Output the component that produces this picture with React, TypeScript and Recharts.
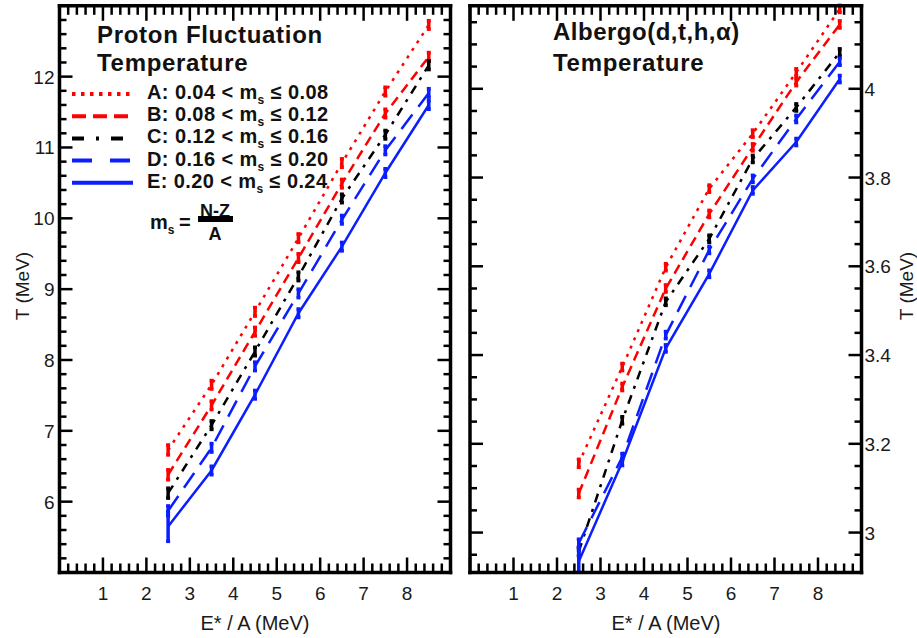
import { LineChart, Line, XAxis, YAxis, ErrorBar } from 'recharts';

const energies = [2.5, 3.5, 4.5, 5.5, 6.5, 7.5, 8.5];

// proton fluctuation temperature (MeV) for groups A..E
const protonA = [6.73, 7.65, 8.68, 9.72, 10.78, 11.79, 12.73];
const protonB = [6.38, 7.36, 8.4, 9.44, 10.49, 11.48, 12.28];
const protonC = [6.12, 7.08, 8.12, 9.18, 10.28, 11.18, 12.16];
const protonD = [5.87, 6.76, 7.91, 8.94, 9.98, 10.96, 11.77];
const protonE = [5.65, 6.44, 7.51, 8.66, 9.6, 10.64, 11.6];
const protonErr = [0.07, 0.06, 0.06, 0.06, 0.06, 0.06, 0.06];
const protonErrE = [0.21, 0.06, 0.06, 0.06, 0.06, 0.06, 0.06];

// Albergo (d,t,h,alpha) temperature (MeV)
const albergoA = [3.156, 3.373, 3.598, 3.775, 3.899, 4.037, 4.18];
const albergoB = [3.088, 3.328, 3.55, 3.718, 3.868, 4.015, 4.145];
const albergoC = [2.957, 3.253, 3.52, 3.662, 3.842, 3.958, 4.082];
const albergoD = [2.976, 3.17, 3.445, 3.637, 3.797, 3.932, 4.061];
const albergoE = [2.935, 3.159, 3.415, 3.583, 3.771, 3.88, 4.022];
const albergoErr = [0.009, 0.008, 0.008, 0.008, 0.008, 0.008, 0.008];
const albergoErrE = [0.024, 0.008, 0.008, 0.008, 0.008, 0.008, 0.008];

const groupNames = ['A', 'B', 'C', 'D', 'E'];
const groupLow = ['0.04', '0.08', '0.12', '0.16', '0.20'];
const groupHigh = ['0.08', '0.12', '0.16', '0.20', '0.24'];

const xTickLabels = [1, 2, 3, 4, 5, 6, 7, 8];
const protonTickLabels = [6, 7, 8, 9, 10, 11, 12];
const albergoTickLabels = [3, 3.2, 3.4, 3.6, 3.8, 4];

const RED = '#ff0000';
const BLUE = '#0a1eff';
const lineStyles = [
  { color: RED, dash: '3 6', legendDash: '3.5 5.5' },
  { color: RED, dash: '10 6', legendDash: '14 7' },
  { color: '#000', dash: '9 7 3 7', legendDash: '12 12 3 12' },
  { color: BLUE, dash: '18 10', legendDash: '20 18' },
  { color: BLUE, dash: undefined, legendDash: undefined },
];

const FONT = '"Liberation Sans", Arial, sans-serif';

const proton = energies.map((e, i) => ({
  e,
  A: protonA[i], B: protonB[i], C: protonC[i], D: protonD[i], E: protonE[i],
  err: protonErr[i], errE: protonErrE[i],
}));
const albergo = energies.map((e, i) => ({
  e,
  A: albergoA[i], B: albergoB[i], C: albergoC[i], D: albergoD[i], E: albergoE[i],
  err: albergoErr[i], errE: albergoErrE[i],
}));

function steps(from: number, to: number, step: number) {
  const out: number[] = [];
  const n = Math.round((to - from) / step);
  for (let k = 0; k <= n; k++) out.push(Number((from + k * step).toFixed(3)));
  return out;
}

const has = (list: number[], v: number) => list.some((m) => Math.abs(m - v) < 1e-6);

type Side = 'bottom' | 'top' | 'left' | 'right';

function makeTick(side: Side, majors: number[], labels: number[], majorLen: number, minorLen: number) {
  return (props: any) => {
    const { x, y, payload } = props;
    const v = payload.value;
    const len = has(majors, v) ? majorLen : minorLen;
    let x2 = x;
    let y2 = y;
    if (side === 'bottom') y2 = y - len;
    if (side === 'top') y2 = y + len;
    if (side === 'left') x2 = x + len;
    if (side === 'right') x2 = x - len;
    let label = null;
    if (has(labels, v)) {
      const common = { fontFamily: FONT, fontSize: 19, fill: '#1a1a1a' };
      if (side === 'bottom')
        label = <text x={x} y={y + 27} textAnchor="middle" {...common}>{v}</text>;
      if (side === 'left')
        label = <text x={x - 5} y={y + 7} textAnchor="end" {...common}>{v}</text>;
      if (side === 'right')
        label = <text x={x + 3} y={y + 7} textAnchor="start" {...common}>{v}</text>;
    }
    return (
      <g>
        <line x1={x} y1={y} x2={x2} y2={y2} stroke="#000" strokeWidth={2.5} />
        {label}
      </g>
    );
  };
}

const frame = { stroke: '#000', strokeWidth: 3.5, strokeLinecap: 'square' as const };
const xTicks = steps(0, 9, 0.2);
const xMajors = steps(0, 9, 1);

function Panel({ data, yDomain, yTicks, yMajors, yLabels, labelSide, width, margin }: any) {
  const axisCommon = { interval: 0 as const, tickLine: false, tickSize: 0, tickMargin: 0, axisLine: frame, allowDataOverflow: true };
  return (
    <LineChart width={width} height={638} data={data} margin={margin}>
      <XAxis xAxisId="b" dataKey="e" type="number" domain={[0, 9]} ticks={xTicks} height={1}
        orientation="bottom" tick={makeTick('bottom', xMajors, xTickLabels, 15, 9)} {...axisCommon} />
      <XAxis xAxisId="t" dataKey="e" type="number" domain={[0, 9]} ticks={xTicks} height={1}
        orientation="top" tick={makeTick('top', xMajors, [], 15, 9)} {...axisCommon} />
      <YAxis yAxisId="l" type="number" domain={yDomain} ticks={yTicks} width={1}
        orientation="left" tick={makeTick('left', yMajors, labelSide === 'left' ? yLabels : [], 13, 7)} {...axisCommon} />
      <YAxis yAxisId="r" type="number" domain={yDomain} ticks={yTicks} width={1}
        orientation="right" tick={makeTick('right', yMajors, labelSide === 'right' ? yLabels : [], 13, 7)} {...axisCommon} />
      {groupNames.map((g, i) => (
        <Line key={g} xAxisId="b" yAxisId="l" dataKey={g} type="linear" dot={false}
          stroke={lineStyles[i].color} strokeWidth={2.5} strokeDasharray={lineStyles[i].dash}
          isAnimationActive={false}>
          <ErrorBar dataKey={g === 'E' ? 'errE' : 'err'} direction="y" width={2}
            stroke={lineStyles[i].color} strokeWidth={3.5} />
        </Line>
      ))}
    </LineChart>
  );
}

function Ms({ x, y, size }: { x: number; y: number; size: number }) {
  return (
    <text x={x} y={y} fontFamily={FONT} fontWeight="bold" fontSize={size} fill="#111">
      m<tspan dy={5} fontSize={size * 0.6}>s</tspan>
    </text>
  );
}

function Annotations() {
  const bold = { fontFamily: FONT, fontWeight: 'bold' as const, fill: '#111' };
  return (
    <svg width={917} height={638} style={{ position: 'absolute', left: 0, top: 0, pointerEvents: 'none' }}>
      <text x={97} y={43} fontSize={24} letterSpacing={0.7} {...bold}>Proton Fluctuation</text>
      <text x={97} y={71} fontSize={24} letterSpacing={0.7} {...bold}>Temperature</text>
      {groupNames.map((g, i) => {
        const base = 99 + i * 22.2;
        return (
          <g key={g}>
            <line x1={72} x2={133} y1={base - 5} y2={base - 5} stroke={lineStyles[i].color}
              strokeWidth={4} strokeDasharray={lineStyles[i].legendDash} />
            <text x={147} y={base} fontSize={20} letterSpacing={0.4} {...bold}>
              {g}: {groupLow[i]} {'<'} m<tspan dy={5} fontSize={12}>s</tspan>
              <tspan dy={-5}> ≤ {groupHigh[i]}</tspan>
            </text>
          </g>
        );
      })}
      <Ms x={150} y={229} size={20} />
      <text x={179} y={229} fontSize={20} {...bold}>=</text>
      <text x={215} y={217} fontSize={18} textAnchor="middle" {...bold}>N-Z</text>
      <rect x={198} y={216} width={35} height={6} fill="#000" />
      <text x={215} y={240} fontSize={18} textAnchor="middle" {...bold}>A</text>

      <text x={553} y={40} fontSize={24} letterSpacing={0.5} {...bold}>Albergo(d,t,h,α)</text>
      <text x={553} y={71} fontSize={24} letterSpacing={0.7} {...bold}>Temperature</text>

      <text x={0} y={0} transform="translate(29,286) rotate(-90)" textAnchor="middle"
        fontFamily={FONT} fontSize={19} fill="#1a1a1a">T (MeV)</text>
      <text x={0} y={0} transform="translate(913,286) rotate(-90)" textAnchor="middle"
        fontFamily={FONT} fontSize={19} fill="#1a1a1a">T (MeV)</text>
      <text x={255} y={630} textAnchor="middle" fontFamily={FONT} fontSize={20} fill="#1a1a1a">E* / A (MeV)</text>
      <text x={666} y={630} textAnchor="middle" fontFamily={FONT} fontSize={20} fill="#1a1a1a">E* / A (MeV)</text>
    </svg>
  );
}

export default function App() {
  return (
    <div style={{ position: 'absolute', left: 0, top: 0, width: 917, height: 638, background: '#fff' }}>
      <div style={{ position: 'absolute', left: 0, top: 0 }}>
        <Panel data={proton} yDomain={[5, 13]} yTicks={steps(5, 13, 0.2)} yMajors={steps(5, 13, 1)}
          yLabels={protonTickLabels} labelSide="left" width={460}
          margin={{ top: 4.8, right: 8.5, bottom: 64.5, left: 58.5 }} />
      </div>
      <div style={{ position: 'absolute', left: 460, top: 0 }}>
        <Panel data={albergo} yDomain={[2.91, 4.187]} yTicks={steps(2.95, 4.15, 0.05)} yMajors={steps(3, 4, 0.2)}
          yLabels={albergoTickLabels} labelSide="right" width={457}
          margin={{ top: 4.8, right: 54.5, bottom: 64.5, left: 9 }} />
      </div>
      <Annotations />
    </div>
  );
}
